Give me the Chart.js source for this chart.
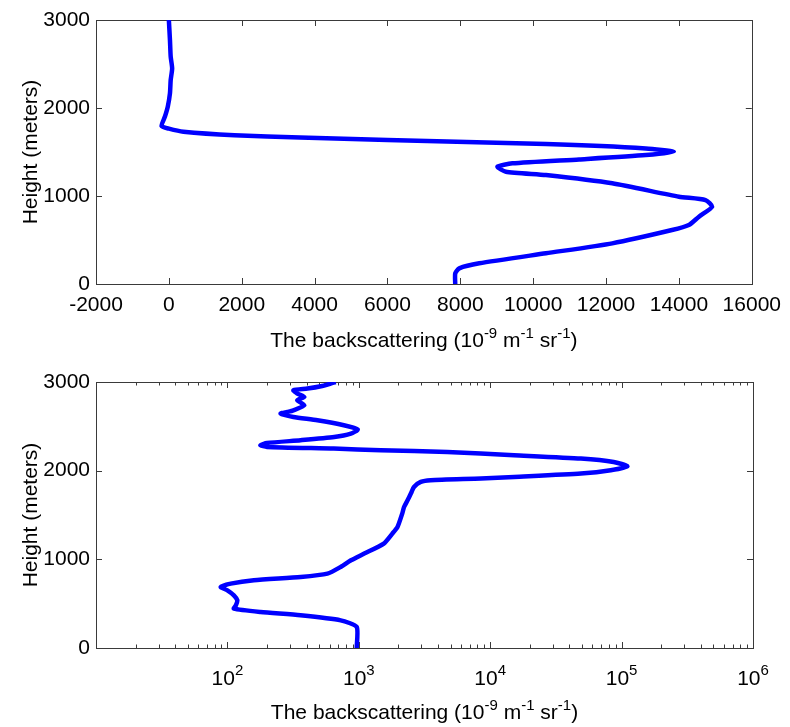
<!DOCTYPE html>
<html>
<head>
<meta charset="utf-8">
<script src="https://cdn.jsdelivr.net/npm/chart.js@4/dist/chart.umd.min.js"></script>
<style>
  html, body { margin: 0; padding: 0; background: #fff; }
  #wrap { position: relative; width: 790px; height: 727px; }
  .box { position: absolute; left: 0; width: 790px; }
</style>
</head>
<body>
<div id="wrap">
  <div class="box" style="top:0;height:360px"><canvas id="topChart"></canvas></div>
  <div class="box" style="top:360px;height:367px"><canvas id="bottomChart"></canvas></div>
</div>
<script>
// upper panel: linear backscattering profile
const topHeight = [0, 121, 178, 235, 349, 462, 613, 670, 765, 878, 954, 992, 1144, 1238, 1276, 1333, 1371, 1416, 1465, 1503,
  1541, 1590, 1636, 1665, 1690, 1730, 1765, 1795, 1900, 2015, 2167, 2318, 2450, 2583, 2772, 3000];
const topValue = [7860, 7860, 7970, 8520, 10350, 12170, 13810, 14270, 14550, 14910, 14730, 14000, 12170, 10350, 9250, 9020, 9430, 11260, 13090, 13860,
  13090, 10350, 6000, 3600, 1800, 400, 0, -200, -110, -30, 30, 50, 90, 50, 30, 0];

// lower panel: same kind of profile on a log axis
const bottomHeight = [0, 237, 312, 369, 406, 444, 481, 538, 594, 651, 688, 726, 764, 801, 839, 914, 989, 1065, 1178, 1290,
  1365, 1516, 1590, 1666, 1742, 1816, 1873, 1892, 1911, 1929, 1967, 2004, 2050, 2098, 2136, 2174, 2211, 2230, 2249, 2268,
  2287, 2312, 2343, 2380, 2418, 2464, 2512, 2569, 2606, 2644, 2662, 2681, 2738, 2794, 2832, 2870, 2907, 2926, 2952, 2982, 3000];
const bottomValue = [964, 964, 728, 360, 179, 112, 116, 119, 112, 100, 89, 106, 159, 361, 577, 728, 871, 1100, 1550, 1800,
  1970, 2140, 2210, 2350, 2490, 2630, 2960, 3520, 8500, 15200, 49000, 82600, 110700, 87000, 49000, 15200, 4720, 1470, 645, 200,
  178, 200, 360, 650, 870, 980, 770, 484, 318, 254, 286, 318, 385, 340, 385, 340, 318, 407, 515, 610, 667];

const xTicksTop = [-2000, 0, 2000, 4000, 6000, 8000, 10000, 12000, 14000, 16000];
const yTicks = [0, 1000, 2000, 3000];
const logExps = [1, 2, 3, 4, 5, 6];
const logLabelExps = [2, 3, 4, 5, 6];

const yTitle = 'Height (meters)';
const xTitleParts = ['The backscattering (10', '-9', ' m', '-1', ' sr', '-1', ')']; // odd entries are superscripts

const FONT = '"Liberation Sans", Arial, sans-serif';
const AXIS = '#3a3a3a';

function toPoints(xs, hs) {
  return hs.map((h, i) => ({ x: xs[i], y: h }));
}

function supText(ctx, parts, cx, baseline, size, supSize, rise) {
  const widths = parts.map((p, i) => {
    ctx.font = (i % 2 ? supSize : size) + 'px ' + FONT;
    return ctx.measureText(p).width;
  });
  let x = cx - widths.reduce((a, b) => a + b, 0) / 2;
  ctx.textAlign = 'left';
  ctx.textBaseline = 'alphabetic';
  parts.forEach((p, i) => {
    ctx.font = (i % 2 ? supSize : size) + 'px ' + FONT;
    ctx.fillText(p, x, i % 2 ? baseline - rise : baseline);
    x += widths[i];
  });
}

// MATLAB-ish box with inward ticks on all four sides
const frame = {
  id: 'frame',
  beforeDatasetsDraw(chart, args, opts) {
    const { ctx, chartArea: a, scales } = chart;
    ctx.save();
    ctx.strokeStyle = AXIS;
    ctx.lineWidth = 1;
    ctx.strokeRect(Math.round(a.left) + 0.5, Math.round(a.top) + 0.5, Math.round(a.right - a.left), Math.round(a.bottom - a.top));
    const tick = (x1, y1, x2, y2) => { ctx.beginPath(); ctx.moveTo(x1, y1); ctx.lineTo(x2, y2); ctx.stroke(); };
    const xMarks = [];
    if (opts.log) {
      logExps.forEach(e => {
        xMarks.push([Math.pow(10, e), 6]);
        if (e < 6) for (let k = 2; k <= 9; k++) xMarks.push([k * Math.pow(10, e), 3.5]);
      });
    } else {
      xTicksTop.forEach(v => xMarks.push([v, 6]));
    }
    xMarks.forEach(([v, len]) => {
      const px = Math.round(scales.x.getPixelForValue(v)) + 0.5;
      tick(px, a.bottom, px, a.bottom - len);
      tick(px, a.top, px, a.top + len);
    });
    yTicks.forEach(v => {
      const py = Math.round(scales.y.getPixelForValue(v)) + 0.5;
      tick(a.left, py, a.left + 6, py);
      tick(a.right, py, a.right - 6, py);
    });
    ctx.restore();
  },
  afterDraw(chart, args, opts) {
    const { ctx, chartArea: a, scales } = chart;
    ctx.save();
    ctx.fillStyle = '#000';
    if (opts.log) {
      logLabelExps.forEach(e => {
        const px = scales.x.getPixelForValue(Math.pow(10, e));
        supText(ctx, ['10', String(e)], px, opts.logBase, 21, 15, 10);
      });
    }
    supText(ctx, xTitleParts, (a.left + a.right) / 2, opts.titleBase, 21, 15, 9);
    ctx.translate(37, (a.top + a.bottom) / 2);
    ctx.rotate(-Math.PI / 2);
    ctx.font = '21px ' + FONT;
    ctx.textAlign = 'center';
    ctx.textBaseline = 'alphabetic';
    ctx.fillText(yTitle, 0, 0);
    ctx.restore();
  }
};

function makeChart(id, points, cfg) {
  return new Chart(document.getElementById(id), {
    type: 'scatter',
    data: {
      datasets: [{
        data: points,
        showLine: true,
        borderColor: '#0000ff',
        borderWidth: 4.5,
        pointRadius: 0,
        tension: 0.2,
        fill: false
      }]
    },
    options: {
      animation: false,
      responsive: true,
      maintainAspectRatio: false,
      layout: { padding: { top: cfg.top, right: 37, left: 0, bottom: 0 } },
      plugins: {
        legend: { display: false },
        tooltip: { enabled: false },
        frame: cfg.frame
      },
      scales: {
        x: {
          type: cfg.xType,
          min: cfg.xMin,
          max: cfg.xMax,
          afterBuildTicks: s => { if (!cfg.frame.log) s.ticks = xTicksTop.map(v => ({ value: v })); },
          afterFit: s => { s.height = cfg.xHeight; },
          grid: { display: false, drawTicks: false },
          border: { display: false },
          ticks: {
            display: !cfg.frame.log,
            color: '#000',
            font: { family: FONT, size: 21 },
            padding: 9,
            maxRotation: 0,
            autoSkip: false,
            callback: v => String(v)
          }
        },
        y: {
          min: 0,
          max: 3000,
          afterBuildTicks: s => { s.ticks = yTicks.map(v => ({ value: v })); },
          afterFit: s => { s.width = 96; },
          grid: { display: false, drawTicks: false },
          border: { display: false },
          ticks: {
            color: '#000',
            font: { family: FONT, size: 21 },
            padding: 6,
            callback: v => String(v)
          }
        }
      }
    },
    plugins: [frame]
  });
}

makeChart('topChart', toPoints(topValue, topHeight), {
  top: 20, xHeight: 76, xType: 'linear', xMin: -2000, xMax: 16000,
  frame: { log: false, titleBase: 347 }
});

makeChart('bottomChart', toPoints(bottomValue, bottomHeight), {
  top: 22, xHeight: 79, xType: 'logarithmic', xMin: 10, xMax: 1000000,
  frame: { log: true, titleBase: 359, logBase: 325 }
});
</script>
</body>
</html>
